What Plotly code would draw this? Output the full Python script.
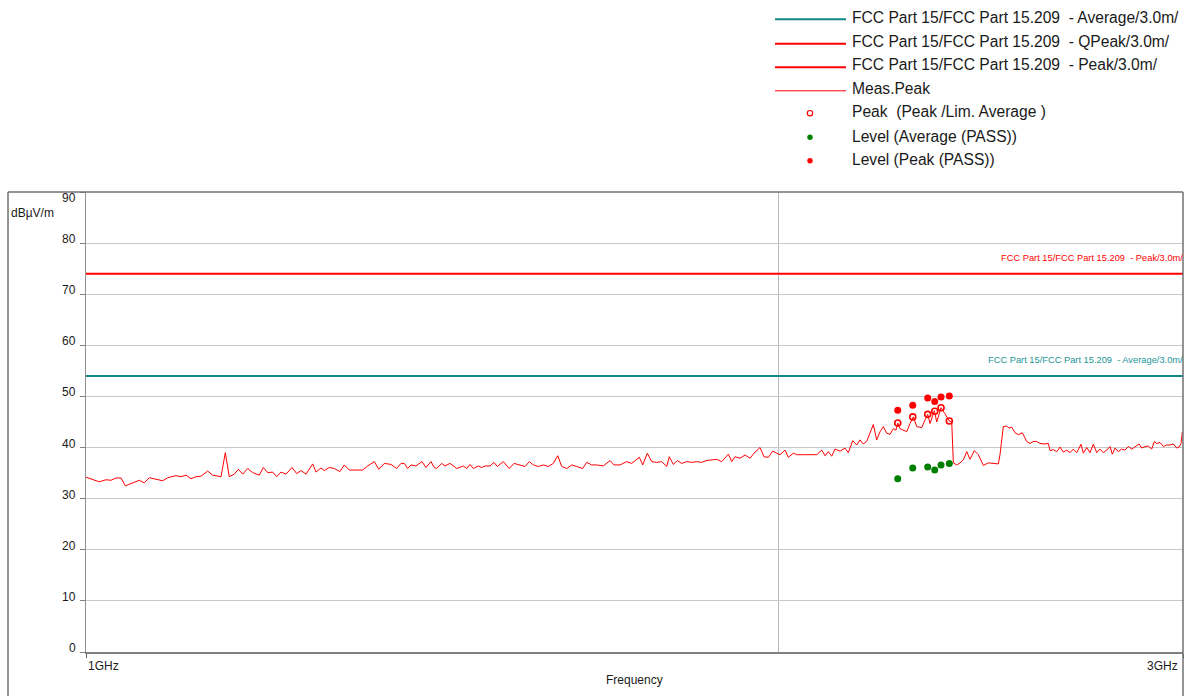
import math
import plotly.graph_objects as go

# ---------------- data ----------------
meas_freq_mhz = [
    1000.0, 1006.7, 1013.4, 1020.2, 1025.4, 1030.5, 1035.7, 1040.2, 1047.9, 1054.8,
    1060.1, 1065.5, 1072.6, 1079.8, 1085.3, 1094.3, 1099.8, 1105.3, 1110.9, 1116.5,
    1122.1, 1129.6, 1135.3, 1144.8, 1149.7, 1154.3, 1160.1, 1164.8, 1169.9, 1175.8,
    1181.7, 1189.5, 1194.3, 1199.6, 1205.6, 1210.4, 1215.7, 1221.8, 1229.1, 1235.0,
    1240.3, 1246.5, 1254.9, 1259.0, 1265.3, 1269.5, 1275.9, 1282.3, 1289.6, 1295.2,
    1301.7, 1319.3, 1325.9, 1334.8, 1340.6, 1348.2, 1357.2, 1365.0, 1370.9, 1375.5,
    1380.1, 1384.7, 1391.6, 1400.0, 1405.6, 1412.7, 1417.4,
    1420.8, 1427.9, 1432.7, 1439.9, 1449.6, 1459.2, 1464.1, 1469.0, 1473.9, 1481.2,
    1486.3, 1491.2, 1498.7, 1504.7, 1509.7, 1518.8, 1527.9, 1535.2, 1544.4, 1552.2,
    1558.9, 1565.1, 1573.0, 1580.9, 1588.8, 1596.8, 1603.9, 1610.3, 1618.4, 1626.5,
    1634.7, 1644.5, 1651.1, 1659.4, 1667.7, 1678.8, 1690.1, 1696.9, 1707.1, 1718.6,
    1727.2, 1740.4, 1746.4, 1754.4, 1762.2, 1771.0, 1779.9, 1788.8, 1793.5, 1800.7,
    1807.9, 1815.9, 1825.0, 1834.2, 1843.4, 1852.7, 1860.7, 1871.3, 1880.7, 1890.1,
    1902.7, 1909.2, 1915.5, 1925.1, 1934.8, 1944.5, 1952.3, 1964.1, 1971.9, 1980.5,
    1989.2, 1997.2, 2003.8,
    2013.9, 2020.5, 2030.7, 2037.6, 2051.1, 2064.9, 2078.8, 2089.2, 2096.2, 2103.1,
    2110.3, 2117.3, 2127.9, 2138.6, 2145.6, 2155.1, 2163.8, 2170.9, 2178.1, 2185.5,
    2192.8, 2200.0, 2207.5, 2214.9, 2222.2, 2229.8, 2237.2, 2244.6, 2250.6, 2254.5,
    2259.7, 2267.2, 2274.9, 2282.4, 2290.0, 2297.8, 2309.3, 2316.9, 2323.2, 2328.6,
    2338.7, 2344.3, 2354.4, 2363.8, 2374.0, 2379.8, 2383.6, 2391.7, 2399.6, 2407.6,
    2415.8, 2423.8, 2434.2, 2444.0, 2456.3, 2468.6, 2485.2, 2493.4, 2497.6,
    2506.0, 2514.5, 2520.3, 2527.1, 2535.5, 2543.9, 2554.1, 2565.4, 2573.9, 2582.4,
    2591.2, 2599.8, 2612.8, 2621.5, 2626.0, 2634.6, 2643.6, 2652.4, 2661.2, 2670.2,
    2679.1, 2687.9, 2697.1, 2708.8, 2715.0, 2724.3, 2733.3, 2742.3, 2751.7, 2760.8,
    2769.9, 2779.4, 2788.6, 2795.0, 2802.6, 2811.9, 2821.4, 2830.8, 2840.2, 2849.9,
    2859.3, 2870.8, 2878.6, 2888.1, 2897.6, 2907.5, 2915.1, 2922.1, 2931.8, 2941.5,
    2951.5, 2961.3, 2971.1, 2981.2, 2988.1, 2994.1, 2998.0,
]
meas_level_dbuv = [
    34.2, 33.7, 33.3, 33.7, 33.6, 34.05, 34.05, 32.5, 33.0, 33.6,
    33.1, 34.1, 33.8, 33.5, 34.1, 34.5, 34.3, 34.6, 33.9, 34.3,
    34.4, 35.4, 34.6, 34.3, 39.0, 34.3, 34.8, 35.75, 34.8, 35.9,
    35.1, 34.6, 36.1, 35.1, 35.2, 34.3, 35.2, 34.8, 36.1, 34.9,
    35.5, 34.8, 36.8, 35.2, 36.0, 35.5, 36.1, 35.9, 35.3, 36.6,
    35.6, 35.6, 36.4, 37.25, 35.75, 36.9, 36.7, 35.9, 36.9, 36.9,
    35.9, 36.6, 36.4, 37.25, 36.1, 37.25, 36.1,
    35.9, 36.9, 36.4, 36.9, 35.9, 36.4, 35.9, 36.7, 35.9, 36.4,
    36.1, 36.4, 36.4, 37.1, 36.3, 37.25, 35.9, 36.9, 36.6, 36.3,
    37.25, 36.6, 36.3, 36.6, 36.3, 36.9, 38.4, 36.3, 35.9, 36.6,
    36.3, 35.9, 37.1, 36.6, 36.6, 36.4, 37.45, 36.6, 36.6, 37.25,
    36.9, 38.1, 36.6, 38.9, 37.25, 37.1, 37.25, 36.3, 38.2, 36.7,
    37.45, 36.9, 37.25, 37.1, 37.25, 37.1, 37.45, 37.6, 37.7, 37.25,
    38.7, 37.25, 38.2, 37.9, 38.55, 37.9, 38.9, 40.0, 38.2, 38.1,
    39.3, 38.9, 38.6,
    39.5, 38.1, 38.9, 38.6, 38.6, 38.6, 38.6, 39.5, 38.4, 39.2,
    38.3, 39.7, 39.3, 39.9, 39.0, 41.35, 40.5, 41.5, 40.7, 41.2,
    42.8, 44.5, 41.5, 43.1, 44.1, 42.8, 42.6, 43.7, 43.4, 44.8,
    43.7, 43.4, 43.1, 44.7, 46.0, 44.1, 43.9, 45.4, 46.5, 44.7,
    47.2, 45.0, 47.8, 46.6, 45.2, 45.0, 37.0, 36.6, 37.0, 37.6,
    39.2, 37.7, 39.4, 38.6, 36.5, 37.0, 36.8, 36.8, 38.6,
    44.1, 44.2, 43.8, 44.0, 42.9, 42.5, 42.9, 41.2, 40.8, 41.2,
    41.2, 40.8, 40.7, 40.8, 39.4, 39.6, 39.2, 40.1, 39.1, 39.5,
    39.0, 39.7, 39.0, 40.65, 38.9, 40.0, 39.0, 40.65, 39.0, 39.7,
    39.0, 39.5, 40.2, 38.7, 39.9, 39.2, 39.7, 39.5, 40.2, 39.7,
    40.1, 40.7, 39.9, 40.2, 40.3, 39.7, 41.2, 40.8, 41.0, 40.2,
    40.5, 40.5, 40.7, 39.9, 40.1, 40.8, 43.1,
]

limit_freq_mhz = [1000, 3000]
limit_average = [54, 54]
limit_peak = [74, 74]

marker_freq_mhz = [2254.5, 2288.6, 2323.2, 2339.6, 2354.4, 2374.0]
peak_vs_lim_avg = [44.8, 46.0, 46.5, 47.1, 47.8, 45.2]
level_average_pass = [33.9, 36.0, 36.2, 35.6, 36.6, 36.9]
level_peak_pass = [47.3, 48.3, 49.7, 49.0, 49.9, 50.1]

y_ticks = [0, 10, 20, 30, 40, 50, 60, 70, 80, 90]
x_tick_freqs = [1000, 3000]
x_tick_labels = ["1GHz", "3GHz"]
x_grid_freqs = [2000]

legend_labels = [
    "FCC Part 15/FCC Part 15.209\u00a0 - Average/3.0m/",
    "FCC Part 15/FCC Part 15.209\u00a0 - QPeak/3.0m/",
    "FCC Part 15/FCC Part 15.209\u00a0 - Peak/3.0m/",
    "Meas.Peak",
    "Peak\u00a0 (Peak /Lim. Average )",
    "Level (Average (PASS))",
    "Level (Peak (PASS))",
]
peak_limit_label = "FCC Part 15/FCC Part 15.209\u00a0 - Peak/3.0m/"
avg_limit_label = "FCC Part 15/FCC Part 15.209\u00a0 - Average/3.0m/"

# ---------------- style ----------------
TEAL = "#108888"
RED = "#ff0000"
GREEN = "#008000"
FONT = "Arial, 'Liberation Sans', sans-serif"
TXT = "#1a1a1a"

W, H = 1184, 696
ML, MR, MT, MB = 86, 1, 192, 44
PW, PH = W - ML - MR, H - MT - MB


def fx(px):
    return (px - ML) / PW


def fy(py):
    return (H - MB - py) / PH


fig = go.Figure()
fig.add_trace(go.Scatter(x=limit_freq_mhz, y=limit_average, mode="lines",
                         line=dict(color=TEAL, width=2), showlegend=False, hoverinfo="skip"))
fig.add_trace(go.Scatter(x=limit_freq_mhz, y=limit_peak, mode="lines",
                         line=dict(color=RED, width=2), showlegend=False, hoverinfo="skip"))
fig.add_trace(go.Scatter(x=meas_freq_mhz, y=meas_level_dbuv, mode="lines",
                         line=dict(color=RED, width=1), showlegend=False))
fig.add_trace(go.Scatter(x=marker_freq_mhz, y=peak_vs_lim_avg, mode="markers",
                         marker=dict(symbol="circle-open", size=6, color=RED,
                                     line=dict(width=1.6, color=RED)), showlegend=False))
fig.add_trace(go.Scatter(x=marker_freq_mhz, y=level_average_pass, mode="markers",
                         marker=dict(symbol="circle", size=7, color=GREEN), showlegend=False))
fig.add_trace(go.Scatter(x=marker_freq_mhz, y=level_peak_pass, mode="markers",
                         marker=dict(symbol="circle", size=7, color=RED), showlegend=False))

annotations = []
shapes = []

# y tick labels
for v in y_ticks:
    annotations.append(dict(x=0, xref="paper", y=v, yref="y", text=str(v), showarrow=False,
                            xanchor="right", yanchor="middle", xshift=-8,
                            yshift=(-6 if v == max(y_ticks) else 4),
                            font=dict(family=FONT, size=12, color=TXT)))
annotations.append(dict(x=fx(9), xref="paper", y=fy(213), yref="paper", text="dBµV/m",
                        showarrow=False, xanchor="left", yanchor="middle",
                        font=dict(family=FONT, size=12, color=TXT)))
# x tick labels
annotations.append(dict(x=0, xref="paper", y=fy(666), yref="paper", text=x_tick_labels[0],
                        showarrow=False, xanchor="left", yanchor="middle",
                        font=dict(family=FONT, size=12, color=TXT)))
annotations.append(dict(x=1, xref="paper", y=fy(666), yref="paper", text=x_tick_labels[1],
                        showarrow=False, xanchor="right", yanchor="middle", xshift=-3,
                        font=dict(family=FONT, size=12, color=TXT)))
annotations.append(dict(x=0.5, xref="paper", y=fy(680), yref="paper", text="Frequency",
                        showarrow=False, xanchor="center", yanchor="middle",
                        font=dict(family=FONT, size=12, color=TXT)))
# limit labels
annotations.append(dict(x=fx(1185), xref="paper", y=limit_peak[0], yref="y", yshift=16,
                        text=peak_limit_label, showarrow=False, xanchor="right", yanchor="middle",
                        font=dict(family=FONT, size=9.3, color=RED)))
annotations.append(dict(x=fx(1185), xref="paper", y=limit_average[0], yref="y", yshift=16,
                        text=avg_limit_label, showarrow=False, xanchor="right", yanchor="middle",
                        font=dict(family=FONT, size=9.3, color="#1a9696")))

# custom legend
leg_text_y = [17, 41.5, 65, 88.5, 112, 136, 159.5]
leg_kind = [("line", TEAL, 2), ("line", RED, 2), ("line", RED, 2), ("line", RED, 1),
            ("open", RED, 0), ("dot", GREEN, 0), ("dot", RED, 0)]
for label, ty, (kind, col, wdt) in zip(legend_labels, leg_text_y, leg_kind):
    annotations.append(dict(x=fx(850), xref="paper", y=fy(ty), yref="paper", text=label,
                            showarrow=False, xanchor="left", yanchor="middle",
                            font=dict(family=FONT, size=15.6, color=TXT)))
    if kind == "line":
        shapes.append(dict(type="line", xref="paper", yref="paper", x0=fx(775), x1=fx(846),
                           y0=fy(ty + 2.3), y1=fy(ty + 2.3), line=dict(color=col, width=wdt)))
    else:
        shapes.append(dict(type="circle", xref="paper", yref="paper",
                           xsizemode="pixel", ysizemode="pixel",
                           xanchor=fx(810), yanchor=fy(ty + 1.2),
                           x0=-2.7, x1=2.7, y0=-2.7, y1=2.7,
                           fillcolor=("white" if kind == "open" else col),
                           line=dict(color=col, width=(1.2 if kind == "open" else 0))))

# outer frame
FRAME = "#707070"
shapes.append(dict(type="line", xref="paper", yref="paper", x0=fx(8), x1=fx(8),
                   y0=fy(700), y1=1, line=dict(color=FRAME, width=1.5)))
shapes.append(dict(type="line", xref="paper", yref="paper", x0=fx(8), x1=1,
                   y0=1, y1=1, line=dict(color=FRAME, width=1.5)))
shapes.append(dict(type="line", xref="paper", yref="paper", x0=1, x1=1,
                   y0=fy(700), y1=1, line=dict(color=FRAME, width=1.5)))

fig.update_layout(
    width=W, height=H, autosize=False,
    margin=dict(l=ML, r=MR, t=MT, b=MB, pad=0),
    paper_bgcolor="white", plot_bgcolor="white",
    showlegend=False,
    annotations=annotations, shapes=shapes,
    font=dict(family=FONT, size=12, color=TXT),
    xaxis=dict(type="log", range=[math.log10(limit_freq_mhz[0]), math.log10(limit_freq_mhz[1])],
               tickvals=x_tick_freqs, showticklabels=False, ticks="outside", ticklen=4,
               tickcolor="#606060", showgrid=False, zeroline=False,
               showline=True, linecolor="#808080", linewidth=2,
               minor=dict(tickvals=x_grid_freqs, showgrid=True, gridcolor="#b8b8b8",
                          gridwidth=1, ticks="")),
    yaxis=dict(range=[y_ticks[0], y_ticks[-1]], tickvals=y_ticks, showticklabels=False,
               ticks="outside", ticklen=5, tickcolor="#808080",
               showgrid=True, gridcolor="#c8c8c8", gridwidth=1, zeroline=False,
               showline=True, linecolor="#909090", linewidth=1),
)

fig.write_html("out.html", config={"displayModeBar": False},
               post_script="document.body.style.margin='0';document.body.style.overflow='hidden';")
